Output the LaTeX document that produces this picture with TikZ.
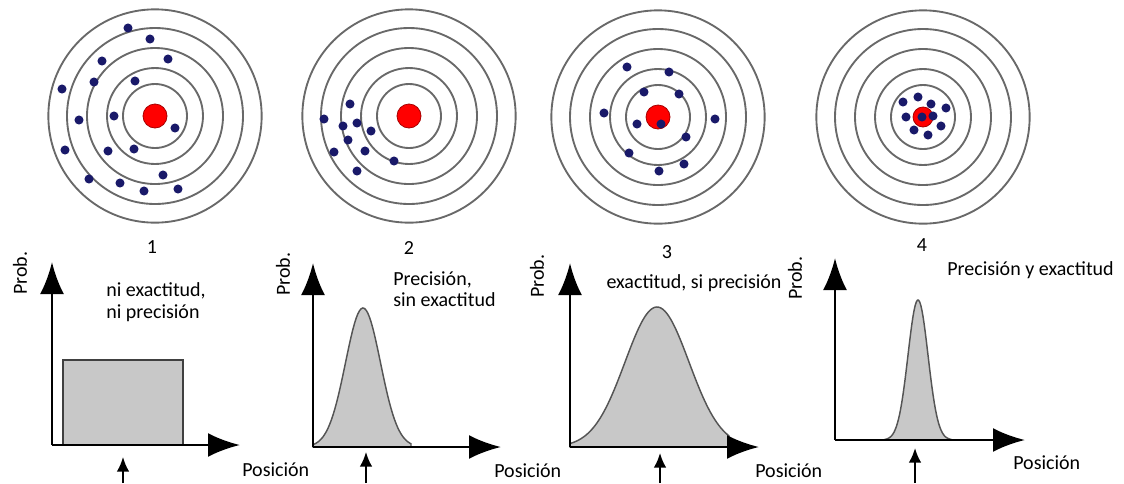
\documentclass[tikz,border=0pt]{standalone}
\usepackage{fontspec}
\setmainfont{Carlito}
\usetikzlibrary{arrows.meta}

\definecolor{ringgray}{RGB}{105,105,105}
\definecolor{dotblue}{RGB}{25,25,105}
\definecolor{fillgray}{RGB}{200,200,200}
\definecolor{curvegray}{RGB}{85,85,85}

\tikzset{
  ring/.style={draw=ringgray, line width=1.4pt},
  hit/.style={fill=dotblue},
  bull/.style={fill=red, draw=red!65!black, line width=0.6pt},
  axis/.style={line width=2.2pt, -{Latex[length=24pt,width=18pt]}},
  pointer/.style={line width=1.5pt, -{Latex[length=11pt,width=9.5pt]}},
  curve/.style={fill=fillgray, draw=curvegray, line width=1.1pt},
  lbl/.style={font=\fontsize{15}{16}\selectfont, inner sep=0pt}
}

\begin{document}
\begin{tikzpicture}[x=0.75pt,y=-0.75pt]
\useasboundingbox (0,0) rectangle (1124,483);

% Targets
\coordinate (t1) at (155,116);
\coordinate (t2) at (409,116);
\coordinate (t3) at (658,117);
\coordinate (t4) at (923,117);
\foreach \t in {t1,t2,t3,t4}
  \foreach \r in {80,66,51,36,24}
    \draw[ring] (\t) circle[radius=\r pt];

% Bull's-eyes
\foreach \t in {t1,t2,t3}
  \filldraw[bull] (\t) circle[radius=9pt];
\filldraw[bull] (t4) circle[radius=7.5pt];

% Hits
\foreach \p in {(128,28),(150,39),(102,61),(168,59),(62,89),(94,82),(135,81),
                (79,120),(114,116),(175,128),(65,150),(108,151),(134,149),
                (163,175),(89,179),(120,183),(144,191),(178,189)}
  \fill[hit] \p circle[radius=3.4pt];
\foreach \p in {(350,104),(324,119),(343,126),(357,123),(371,131),
                (348,140),(334,152),(365,151),(394,161),(357,171)}
  \fill[hit] \p circle[radius=3.4pt];
\foreach \p in {(627,67),(669,72),(644,92),(679,94),(604,113),(715,119),
                (637,124),(661,124),(686,137),(629,153),(684,164),(659,171)}
  \fill[hit] \p circle[radius=3.4pt];
\foreach \p in {(903,102),(918,97),(931,104),(946,108),(906,117),(933,116),
                (922,117),(914,130),(928,135),(941,126)}
  \fill[hit] \p circle[radius=3.4pt];

% Numbers
\node[lbl] (num1) at (152,247) {1};
\node[lbl] (num2) at (409,248) {2};
\node[lbl] (num3) at (667,252) {3};
\node[lbl] (num4) at (922,245) {4};

% Distributions
\filldraw[curve, line width=2pt, draw=black!75] (63,445) rectangle (183,360);
\filldraw[curve] (313,447) -- plot[domain=313:411, samples=60]
  (\x,{447-139*exp(-((\x-363)^2)/612.5)}) -- (411,447) -- cycle;
\filldraw[curve] (570,447) -- plot[domain=570:729, samples=80]
  (\x,{447-140*exp(-((\x-657)^2)/2048)}) -- (729,447) -- cycle;
\filldraw[curve] (885,440) -- plot[domain=885:951, samples=60]
  (\x,{440-140*exp(-((\x-918)^2)/200)}) -- (951,440) -- cycle;

% Axes
\coordinate (o1) at (52,445);  \coordinate (y1) at (52,262);  \coordinate (x1) at (240,445);
\coordinate (o2) at (313,447); \coordinate (y2) at (313,263); \coordinate (x2) at (501,447);
\coordinate (o3) at (570,447); \coordinate (y3) at (570,263); \coordinate (x3) at (759,447);
\coordinate (o4) at (835,440); \coordinate (y4) at (835,258); \coordinate (x4) at (1025,440);
\foreach \i in {1,2,3,4} {
  \draw[axis] (o\i) -- (y\i);
  \draw[axis] (o\i) -- (x\i);
}

% True value
\coordinate (m1) at (123,457); \coordinate (b1) at (123,483);
\coordinate (m2) at (366,452); \coordinate (b2) at (366,483);
\coordinate (m3) at (660,453); \coordinate (b3) at (660,483);
\coordinate (m4) at (915,448); \coordinate (b4) at (915,483);
\foreach \i in {1,2,3,4}
  \draw[pointer] (b\i) -- (m\i);

% Labels
\node[lbl, rotate=90] (prob1) at (20,273) {Prob.};
\node[lbl, rotate=90] (prob2) at (283,274) {Prob.};
\node[lbl, rotate=90] (prob3) at (537,276) {Prob.};
\node[lbl, rotate=90] (prob4) at (795,278) {Prob.};
\node[lbl, anchor=west] (pos1) at (242,470) {Posición};
\node[lbl, anchor=west] (pos2) at (494,471) {Posición};
\node[lbl, anchor=west] (pos3) at (755,471) {Posición};
\node[lbl, anchor=west] (pos4) at (1013,463) {Posición};

\node[lbl, anchor=west, align=left] (txt1) at (106,302) {ni exactitud,\\ni precisión};
\node[lbl, anchor=west, align=left] (txt2) at (393,289) {Precisión,\\sin exactitud};
\node[lbl] (txt3) at (694,283) {exactitud, si precisión};
\node[lbl, anchor=west] (txt4) at (947,270) {Precisión y exactitud};

\end{tikzpicture}
\end{document}
